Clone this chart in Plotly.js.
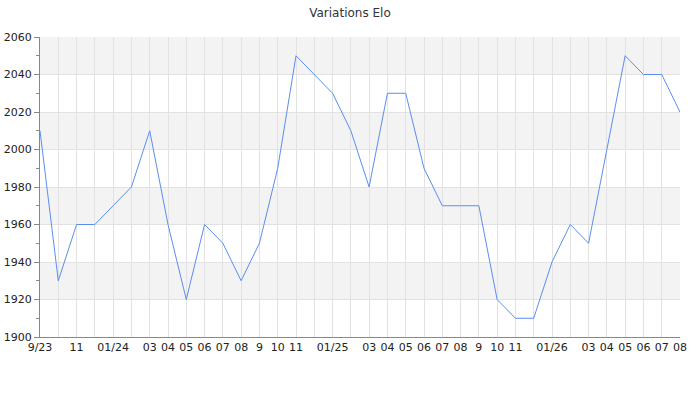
<!DOCTYPE html>
<html><head><meta charset="utf-8">
<script src="https://cdn.plot.ly/plotly-3.0.1.min.js"></script>
<style>html,body{margin:0;padding:0;background:#fff}#chart{width:700px;height:400px}</style>
</head><body><div id="chart"></div>
<script>
const months = ["2023-09","2023-10","2023-11","2023-12","2024-01","2024-02","2024-03","2024-04","2024-05","2024-06","2024-07","2024-08","2024-09","2024-10","2024-11","2024-12","2025-01","2025-02","2025-03","2025-04","2025-05","2025-06","2025-07","2025-08","2025-09","2025-10","2025-11","2025-12","2026-01","2026-02","2026-03","2026-04","2026-05","2026-06","2026-07","2026-08"];
const tickLabels = ["9/23","","11","","01/24","","03","04","05","06","07","08","9","10","11","","01/25","","03","04","05","06","07","08","9","10","11","","01/26","","03","04","05","06","07","08"];
const elo = [2010,1930,1960,1960,1970,1980,2010,1960,1920,1960,1950,1930,1950,1990,2050,2040,2030,2010,1980,2030,2030,1990,1970,1970,1970,1920,1910,1910,1940,1960,1950,2000,2050,2040,2040,2020];
const yTicks = [1900,1920,1940,1960,1980,2000,2020,2040,2060];

const idx = months.map((m,i)=>i);
const shapes = [];
for (let i = 1; i < yTicks.length - 1; i += 2) {
  shapes.push({type:'rect', xref:'paper', yref:'y', x0:0, x1:1, y0:yTicks[i], y1:yTicks[i+1],
    fillcolor:'#f3f3f3', line:{width:0}, layer:'below'});
}
Plotly.newPlot('chart', [{
  x: idx, y: elo, type:'scatter', mode:'lines',
  line:{color:'#5a8ef0', width:1}, hoverinfo:'y'
}], {
  width:700, height:400,
  margin:{l:40, r:20, t:37, b:63},
  paper_bgcolor:'#fff', plot_bgcolor:'#fff',
  font:{family:'DejaVu Sans, sans-serif', size:11, color:'#333'},
  title:{text:'Variations Elo', x:0.5, xanchor:'center', y:0.978, yanchor:'top', font:{size:12, color:'#333'}},
  showlegend:false,
  shapes: shapes,
  xaxis:{range:[0, months.length-1], tickvals:idx, ticktext:tickLabels, tickangle:0,
    showgrid:true, gridcolor:'#e2e2e2', gridwidth:1, zeroline:false,
    showline:true, linecolor:'#888', linewidth:1, ticks:'', ticklen:0, fixedrange:true,
    tickfont:{size:11, color:'#222'}},
  yaxis:{range:[1900,2060], tickvals:yTicks, showgrid:true, gridcolor:'#e2e2e2', gridwidth:1,
    zeroline:false, showline:true, linecolor:'#888', linewidth:1, ticks:'outside', ticklen:5, tickcolor:'#888',
    minor:{dtick:10, ticks:'outside', ticklen:3, tickcolor:'#888', showgrid:false},
    tickfont:{size:11, color:'#222'}, fixedrange:true}
}, {displayModeBar:false, staticPlot:true});
</script></body></html>
